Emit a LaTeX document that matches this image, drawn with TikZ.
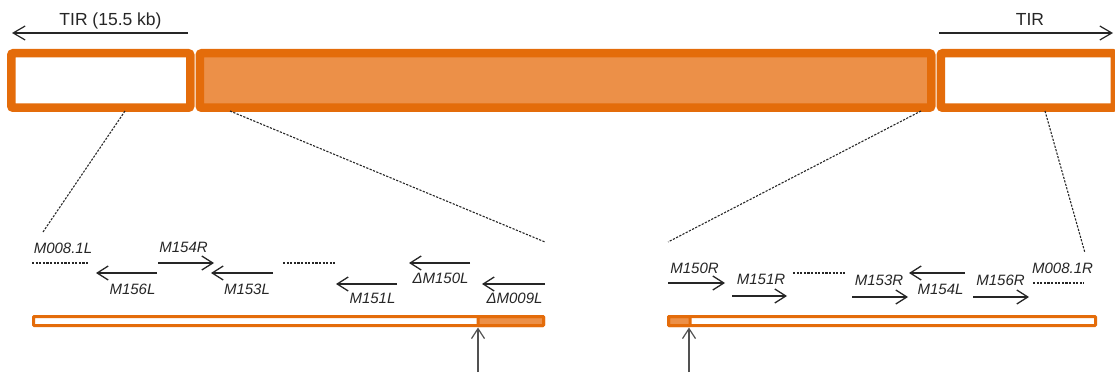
\documentclass[tikz,border=0pt]{standalone}
\usepackage{fontspec}
\setmainfont{Liberation Sans}
\usetikzlibrary{arrows.meta}
\definecolor{orangeedge}{HTML}{E46C0A}
\definecolor{orangefill}{HTML}{EC9048}
\definecolor{ink}{HTML}{262626}
\tikzset{
  genomebox/.style={draw=orangeedge, line width=8.5pt, rounded corners=2pt, inner sep=0pt},
  detailbar/.style={draw=orangeedge, line width=3pt, rounded corners=0.8pt},
  gene/.style={draw=ink, line width=1.3pt, -{Straight Barb[length=11pt,width=14pt,line width=1.3pt]}},
  span/.style={draw=ink, line width=1.2pt, -{Straight Barb[length=12pt,width=14pt,line width=1.2pt]}},
  site/.style={draw=ink!80, line width=1.2pt, -{Straight Barb[length=10pt,width=13pt,line width=1.2pt]}},
  zoomline/.style={draw=ink, line width=1.1pt, dash pattern=on 2.2pt off 1.4pt},
  orf/.style={font=\fontsize{15}{17}\selectfont\itshape, text=ink, anchor=base, inner sep=0pt},
  tirlabel/.style={font=\fontsize{17.5}{19}\selectfont, text=ink, anchor=base, inner sep=0pt}
}
\begin{document}
\begin{tikzpicture}[x=1pt,y=-1pt]
\useasboundingbox (0,0) rectangle (1115,374);
\begin{scope}
\clip (0,0) rectangle (1115,374);

% genome overview: left TIR, central region, right TIR
\node[genomebox, fill=white, minimum width=179pt, minimum height=54.5pt] (tirL) at (100.75,80.5) {};
\node[genomebox, fill=orangefill, minimum width=731.5pt, minimum height=54.5pt] (core) at (565.5,80.5) {};
\node[genomebox, fill=white, minimum width=174pt, minimum height=54.5pt] (tirR) at (1027.75,80.5) {};

% TIR extent arrows
\coordinate (tlA) at (188,33); \coordinate (tlB) at (12,33);
\coordinate (trA) at (939,33); \coordinate (trB) at (1113,33);
\draw[span] (tlA) -- (tlB);
\draw[span] (trA) -- (trB);
\node[tirlabel] (tirLtext) at (110.5,26) {TIR (15.5 kb)};
\node[tirlabel] (tirRtext) at (1030,26) {TIR};

% expanded left end
\coordinate (lbarA) at (33.5,316.5); \coordinate (lbarB) at (543.5,325.5);
\coordinate (lbarM) at (478,316.5);
\fill[white] (lbarA) rectangle (lbarB);
\draw[detailbar, fill=orangefill] (lbarM) rectangle (lbarB);
\node[detailbar, minimum width=510pt, minimum height=9pt, inner sep=0pt] (lbar) at (288.5,321) {};

% expanded right end
\coordinate (rbarA) at (668.5,316.5); \coordinate (rbarB) at (1095.5,325.5);
\coordinate (rbarM) at (690,325.5);
\draw[detailbar, fill=orangefill] (rbarA) rectangle (rbarM);
\node[detailbar, minimum width=427pt, minimum height=9pt, inner sep=0pt] (rbar) at (882,321) {};

% zoom guides from overview to expansions
\coordinate (zl1) at (43,232); \coordinate (zl2) at (545,242);
\coordinate (zr1) at (668,242); \coordinate (zr2) at (1085,253);
\draw[zoomline] (125,111) -- (zl1);
\draw[zoomline] (230,111) -- (zl2);
\draw[zoomline] (921,111) -- (zr1);
\draw[zoomline] (1045,111) -- (zr2);

% junction sites
\coordinate (jl) at (478,372); \coordinate (jr) at (689,372);
\draw[site] (jl) -- (478,327.5);
\draw[site] (jr) -- (689,327.5);

% left-end ORFs
\draw[zoomline] (32,263) -- (89,263);
\node[orf] (m0081l) at (63,253) {M008.1L};
\draw[gene] (157,273) -- (96,273);
\node[orf] (m156l) at (132.5,294) {M156L};
\draw[gene] (158,263) -- (214,263);
\node[orf] (m154r) at (183.5,252) {M154R};
\draw[gene] (273,273) -- (211,273);
\node[orf] (m153l) at (247,294) {M153L};
\draw[zoomline] (283,263) -- (335,263);
\draw[gene] (397,284) -- (336,284);
\node[orf] (m151l) at (372.5,303) {M151L};
\draw[gene] (470,263) -- (409,263);
\node[orf] (m150l) at (440.5,283) {ΔM150L};
\draw[gene] (545,284) -- (482,284);
\node[orf] (m009l) at (514.5,303) {ΔM009L};

% right-end ORFs
\draw[gene] (668,283) -- (725,283);
\node[orf] (m150r) at (694.5,273) {M150R};
\draw[gene] (732,296) -- (787,296);
\node[orf] (m151r) at (761,284) {M151R};
\draw[zoomline] (793,273) -- (845,273);
\draw[gene] (852,297) -- (908,297);
\node[orf] (m153r) at (879,285) {M153R};
\draw[gene] (965,273) -- (909,273);
\node[orf] (m154l) at (940.5,294) {M154L};
\draw[gene] (973,297) -- (1029,297);
\node[orf] (m156r) at (1000.5,285) {M156R};
\draw[zoomline] (1033,283) -- (1084,283);
\node[orf] (m0081r) at (1062.5,273) {M008.1R};
\end{scope}
\end{tikzpicture}
\end{document}
